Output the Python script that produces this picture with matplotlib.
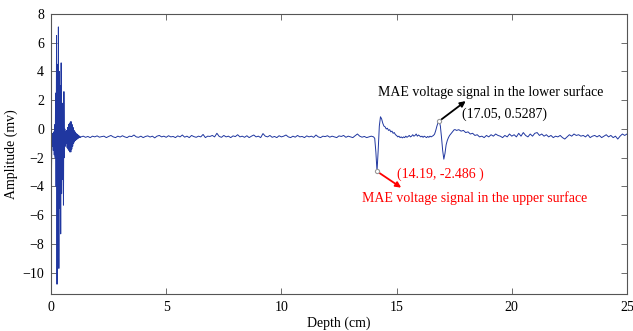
import numpy as np
import matplotlib
matplotlib.use("Agg")
import matplotlib.pyplot as plt

plt.rcParams['font.family'] = ['Liberation Serif', 'DejaVu Serif']

# Segment A: strong oscillation near the surface, 0.00-1.28 cm, step 0.02
osc_amp = [-0.6, -2.9, -0.4, -1.2, -0.3, -1.5, -0.2, -1.8, 0.3, -2.0,
           2.5, -4.0, 6.5, -10.8, 4.5, -6.0, 7.1, -9.7, 4.0, -5.5,
           3.0, -7.3, 4.6, -4.5, 1.8, -3.5, 1.2, -5.3, 2.6, -2.0,
           0.0, -1.2, -0.2, -1.0, -0.1, -1.3, 0.1, -1.4, 0.3, -1.5,
           0.4, -1.6, 0.5, -1.6, 0.5, -1.4, 0.3, -1.2, 0.1, -1.0,
           -0.1, -0.9, -0.2, -0.8, -0.3, -0.75, -0.35, -0.7, -0.4, -0.65,
           -0.45, -0.6, -0.5, -0.6, -0.55]
# Segment B: baseline 1.3-13.9 cm, step 0.1
base1_amp = [-0.55, -0.5, -0.58, -0.52, -0.6, -0.5, -0.55, -0.48, -0.57, -0.53,
             -0.5, -0.6, -0.52, -0.45, -0.55, -0.6, -0.5, -0.56, -0.47, -0.55,
             -0.6, -0.5, -0.53, -0.42, -0.55, -0.58, -0.5, -0.6, -0.52, -0.48,
             -0.56, -0.5, -0.62, -0.5, -0.45, -0.55, -0.5, -0.58, -0.47, -0.55,
             -0.52, -0.6, -0.48, -0.55, -0.42, -0.57, -0.5, -0.6, -0.45, -0.53,
             -0.58, -0.5, -0.55, -0.38, -0.6, -0.5, -0.52, -0.45, -0.55, -0.3,
             -0.52, -0.58, -0.45, -0.55, -0.5, -0.6, -0.48, -0.53, -0.4, -0.55,
             -0.5, -0.58, -0.47, -0.6, -0.5, -0.42, -0.55, -0.5, -0.6, -0.32,
             -0.5, -0.55, -0.45, -0.58, -0.52, -0.6, -0.47, -0.55, -0.5, -0.42,
             -0.55, -0.6, -0.5, -0.57, -0.45, -0.55, -0.52, -0.6, -0.48, -0.55,
             -0.5, -0.58, -0.42, -0.55, -0.6, -0.5, -0.53, -0.47, -0.57, -0.5,
             -0.55, -0.6, -0.48, -0.52, -0.45, -0.58, -0.5, -0.55, -0.6, -0.47,
             -0.35, -0.5, -0.57, -0.52, -0.6, -0.55, -0.5]
# Segment C: echoes from upper and lower surfaces, 14.00-17.60 cm, step 0.05
echo_amp = [-0.55, -0.65, -1.6, -2.95, -1.5, 0.2, 0.85, 0.7, 0.4, 0.2,
            0.15, 0.0, 0.05, -0.1, -0.05, -0.2, -0.15, -0.3, -0.25, -0.4,
            -0.45, -0.55, -0.5, -0.6, -0.55, -0.62, -0.55, -0.6, -0.5, -0.58,
            -0.52, -0.45, -0.55, -0.5, -0.4, -0.5, -0.45, -0.35, -0.5, -0.42,
            -0.48, -0.55, -0.5, -0.58, -0.5, -0.55, -0.6, -0.52, -0.58, -0.5,
            -0.55, -0.5, -0.45, -0.35, -0.1, 0.2, 0.45, 0.55, 0.2, -0.6,
            -1.5, -2.1, -1.7, -1.1, -0.8, -0.6, -0.45, -0.35, -0.25, -0.15,
            -0.05, -0.05, -0.1]
# Segment D: baseline 17.7-25.0 cm, step 0.1
base2_amp = [-0.05, -0.15, -0.1, -0.25, -0.2, -0.35, -0.3, -0.45, -0.4, -0.55,
             -0.5, -0.6, -0.45, -0.55, -0.4, -0.5, -0.35, -0.45, -0.5, -0.6,
             -0.45, -0.55, -0.35, -0.5, -0.4, -0.55, -0.3, -0.5, -0.25, -0.45,
             -0.55, -0.35, -0.5, -0.3, -0.25, -0.45, -0.35, -0.5, -0.4, -0.55,
             -0.45, -0.6, -0.5, -0.55, -0.45, -0.6, -0.7, -0.55, -0.4, -0.5,
             -0.35, -0.45, -0.4, -0.5, -0.45, -0.55, -0.4, -0.6, -0.5, -0.45,
             -0.55, -0.45, -0.6, -0.5, -0.4, -0.55, -0.45, -0.6, -0.5, -0.7,
             -0.5, -0.35, -0.45, -0.35]

osc_depth = np.round(np.arange(len(osc_amp)) * 0.02, 4)
base1_depth = np.round(1.3 + np.arange(len(base1_amp)) * 0.1, 4)
echo_depth = np.round(14.0 + np.arange(len(echo_amp)) * 0.05, 4)
base2_depth = np.round(17.7 + np.arange(len(base2_amp)) * 0.1, 4)

depth = np.concatenate([osc_depth, base1_depth, echo_depth, base2_depth])
amp = np.concatenate([osc_amp, base1_amp, echo_amp, base2_amp])

upper_tip = (14.15, -2.95)
lower_tip = (16.85, 0.55)
upper_label = "(14.19, -2.486 )"
lower_label = "(17.05, 0.5287)"
upper_text = "MAE voltage signal in the upper surface"
lower_text = "MAE voltage signal in the lower surface"

xticks = [0, 5, 10, 15, 20, 25]
yticks = [-10, -8, -6, -4, -2, 0, 2, 4, 6, 8]

fig = plt.figure(figsize=(6.33, 3.31), dpi=100)
ax = fig.add_axes([0.0806, 0.111, 0.9099, 0.8467])
ax.plot(depth, amp, color='#2037a0', lw=0.7)

ax.set_xlim(0, 25)
ax.set_ylim(-11.5, 8)
ax.set_xticks(xticks)
ax.set_yticks(yticks)
ax.tick_params(direction='in', top=True, right=True, length=4, width=0.6,
               color='#555555', labelsize=10, pad=5)
for s in ax.spines.values():
    s.set_color('#555555')
    s.set_linewidth(0.8)
ax.set_xlabel('Depth (cm)', fontsize=10, labelpad=2)
ax.set_ylabel('Amplitude (mv)', fontsize=10, labelpad=3)

# data tips
for tip in (upper_tip, lower_tip):
    ax.plot(*tip, marker='o', ms=3, mfc='white', mec='#999999', mew=0.8, zorder=5)

ax.annotate('', xy=(15.2, -4.08), xytext=upper_tip,
            arrowprops=dict(arrowstyle='-|>', color='red', lw=1.3,
                            mutation_scale=8, shrinkA=2, shrinkB=0))
ax.annotate('', xy=(18.0, 1.94), xytext=lower_tip,
            arrowprops=dict(arrowstyle='-|>', color='black', lw=1.3,
                            mutation_scale=8, shrinkA=2, shrinkB=0))

ax.text(15.0, -3.15, upper_label, color='red', fontsize=10, va='center', ha='left')
ax.text(13.49, -4.83, upper_text, color='red', fontsize=10, va='center', ha='left')
ax.text(17.83, 1.02, lower_label, color='black', fontsize=10, va='center', ha='left')
ax.text(14.21, 2.6, lower_text, color='black', fontsize=10, va='center', ha='left')

fig.savefig('out.png', dpi=100)
